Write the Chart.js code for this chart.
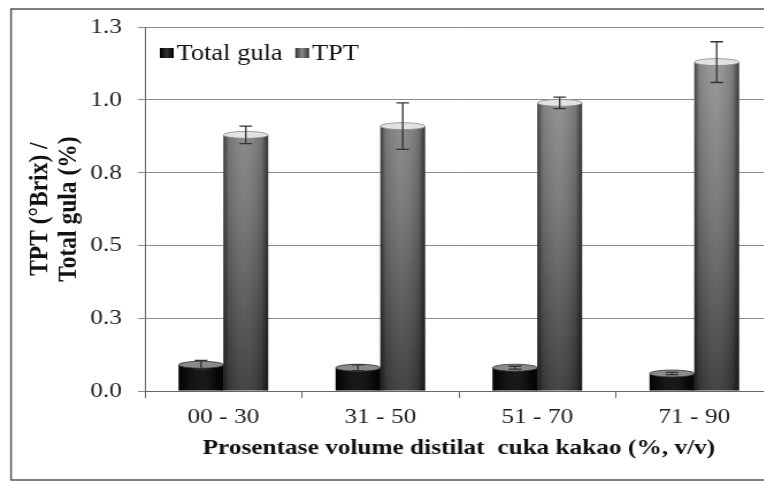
<!DOCTYPE html>
<html>
<head>
<meta charset="utf-8">
<script src="https://cdn.jsdelivr.net/npm/chart.js@4.4.1/dist/chart.umd.min.js"></script>
<style>
html, body { margin: 0; padding: 0; overflow: hidden; background: #fff; width: 764px; height: 483px; }
#wrap { width: 690px; height: 483px; transform: scaleX(1.15); transform-origin: 0 0; }
</style>
</head>
<body>
<div id="wrap"><canvas id="myChart" width="690" height="483"></canvas></div>
<script>
var kategori = ['00 - 30', '31 - 50', '51 - 70', '71 - 90'];
var totalGula = [0.09, 0.08, 0.08, 0.06];
var totalGulaSd = [0.015, 0.01, 0.005, 0.004];
var tpt = [0.88, 0.91, 0.99, 1.13];
var tptSd = [0.03, 0.08, 0.02, 0.07];
var yTicks = [0, 0.25, 0.5, 0.75, 1.0, 1.25];
var yTickLabels = ['0.0', '0.3', '0.5', '0.8', '1.0', '1.3'];

var serif = "'Liberation Serif', 'Times New Roman', serif";

// grey fill that darkens toward the bottom of the plot
function tptFill(c) {
    var a = c.chart.chartArea;
    if (!a) return '#777';
    var g = c.chart.ctx.createLinearGradient(0, a.top, 0, a.bottom);
    g.addColorStop(0, '#9c9c9c');
    g.addColorStop(0.5, '#747474');
    g.addColorStop(1, '#3a3a3a');
    return g;
}

// outer frame
var frame = {
    id: 'frame',
    beforeDraw: function(chart) {
        var ctx = chart.ctx;
        ctx.save();
        ctx.fillStyle = '#fff';
        ctx.fillRect(0, 0, chart.width, chart.height);
        ctx.strokeStyle = '#555';
        ctx.lineWidth = 1.5;
        ctx.strokeRect(9.6, 9, chart.width + 20, 471);
        ctx.restore();
    }
};

// cylinder shading + top ellipse on every bar
var cylinders = {
    id: 'cylinders',
    afterDatasetsDraw: function(chart) {
        var ctx = chart.ctx;
        chart.data.datasets.forEach(function(ds, di) {
            var meta = chart.getDatasetMeta(di);
            meta.data.forEach(function(bar) {
                var w = bar.width, l = bar.x - w / 2;
                var h = ctx.createLinearGradient(l, 0, l + w, 0);
                h.addColorStop(0, 'rgba(0,0,0,0.55)');
                h.addColorStop(0.12, 'rgba(0,0,0,0.1)');
                h.addColorStop(0.45, 'rgba(255,255,255,0.06)');
                h.addColorStop(0.85, 'rgba(0,0,0,0.15)');
                h.addColorStop(1, 'rgba(0,0,0,0.6)');
                ctx.save();
                ctx.fillStyle = h;
                ctx.fillRect(l, bar.y, w, bar.base - bar.y);
                ctx.beginPath();
                ctx.ellipse(bar.x, bar.y, w / 2, 3.5, 0, 0, Math.PI * 2);
                ctx.fillStyle = di === 0 ? '#8a8a8a' : '#e2e2e2';
                ctx.fill();
                ctx.lineWidth = 0.8;
                ctx.strokeStyle = di === 0 ? '#333' : '#888';
                ctx.stroke();
                ctx.restore();
            });
        });
    }
};

// standard deviation whiskers
var errorBars = {
    id: 'errorBars',
    afterDatasetsDraw: function(chart) {
        var ctx = chart.ctx, y = chart.scales.y;
        var sds = [totalGulaSd, tptSd];
        chart.data.datasets.forEach(function(ds, di) {
            chart.getDatasetMeta(di).data.forEach(function(bar, i) {
                var v = ds.data[i], sd = sds[di][i];
                var top = y.getPixelForValue(v + sd), bot = y.getPixelForValue(v - sd);
                ctx.save();
                ctx.strokeStyle = '#333';
                ctx.lineWidth = 1.3;
                ctx.beginPath();
                ctx.moveTo(bar.x, top); ctx.lineTo(bar.x, bot);
                ctx.moveTo(bar.x - 5.5, top); ctx.lineTo(bar.x + 5.5, top);
                ctx.moveTo(bar.x - 5.5, bot); ctx.lineTo(bar.x + 5.5, bot);
                ctx.stroke();
                ctx.restore();
            });
        });
    }
};

// legend inside the plot, top left
var insideLegend = {
    id: 'insideLegend',
    afterDraw: function(chart) {
        var ctx = chart.ctx, a = chart.chartArea;
        var x = a.left + 13, cy = 53;
        ctx.save();
        ctx.font = '23px ' + serif;
        ctx.textBaseline = 'middle';
        chart.data.datasets.forEach(function(ds, di) {
            var g = ctx.createLinearGradient(x, 0, x + 12, 0);
            if (di === 0) { g.addColorStop(0, '#000'); g.addColorStop(0.5, '#333'); g.addColorStop(1, '#000'); }
            else { g.addColorStop(0, '#333'); g.addColorStop(0.5, '#888'); g.addColorStop(1, '#333'); }
            ctx.fillStyle = g;
            ctx.fillRect(x, cy - 5, 12, 10);
            ctx.fillStyle = '#111';
            ctx.fillText(ds.label, x + 14.5, cy + 1);
            x += 14.5 + ctx.measureText(ds.label).width + 11;
        });
        ctx.restore();
    }
};

var ctx = document.getElementById('myChart');
var myChart = new Chart(ctx, {
    type: 'bar',
    data: {
        labels: kategori,
        datasets: [{
            label: 'Total gula',
            data: totalGula,
            backgroundColor: '#0a0a0a',
            borderWidth: 0
        }, {
            label: 'TPT',
            data: tpt,
            backgroundColor: tptFill,
            borderWidth: 0
        }]
    },
    options: {
        responsive: false,
        animation: false,
        devicePixelRatio: 1,
        categoryPercentage: 0.57,
        barPercentage: 1,
        layout: { padding: { left: 12, right: 18, top: 25, bottom: 10 } },
        plugins: { legend: { display: false }, tooltip: { enabled: false } },
        scales: {
            x: {
                grid: { display: true, drawOnChartArea: false, drawTicks: true, tickLength: 7, color: '#666', offset: true },
                border: { color: '#666', width: 1 },
                ticks: { color: '#222', padding: 6, font: { family: serif, size: 22 } },
                title: {
                    display: true,
                    text: 'Prosentase volume distilat  cuka kakao (%, v/v)',
                    color: '#111',
                    font: { family: serif, size: 22, weight: 'bold' },
                    padding: { top: 0, bottom: 11 }
                },
                afterFit: function(s) { s.height = 82; }
            },
            y: {
                min: 0,
                max: 1.25,
                afterBuildTicks: function(s) { s.ticks = yTicks.map(function(v) { return { value: v }; }); },
                grid: { color: '#8c8c8c', tickLength: 6, lineWidth: 1 },
                border: { color: '#666', width: 1 },
                ticks: {
                    color: '#222', padding: 14,
                    font: { family: serif, size: 22 },
                    callback: function(v, i) { return yTickLabels[i]; }
                },
                title: {
                    display: true,
                    text: ['TPT (°Brix) /', 'Total gula (%)'],
                    color: '#111',
                    font: { family: serif, size: 23.5, weight: 'bold', lineHeight: 1.05 },
                    padding: { top: 11, bottom: 0 }
                },
                afterFit: function(s) { s.width = 114; }
            }
        }
    },
    plugins: [frame, cylinders, errorBars, insideLegend]
});
</script>
</body>
</html>
